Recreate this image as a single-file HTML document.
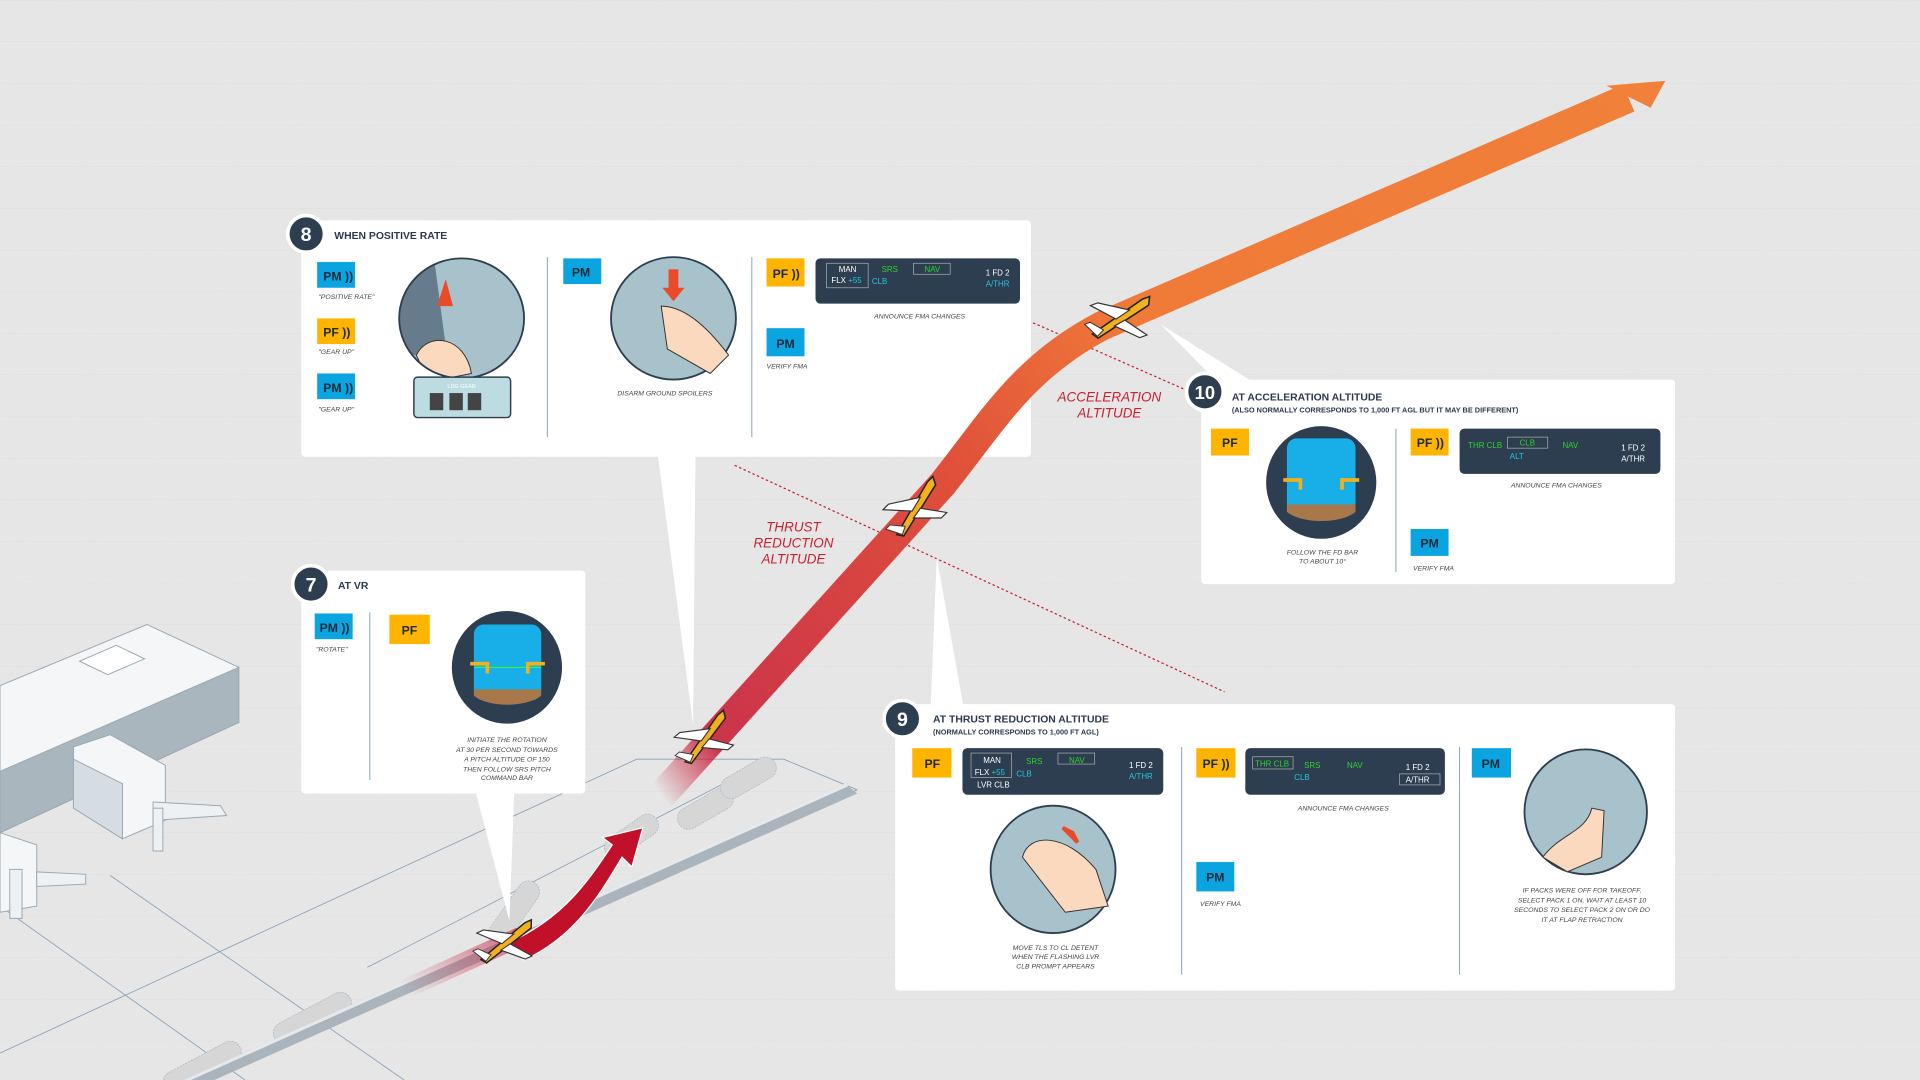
<!DOCTYPE html>
<html><head><meta charset="utf-8"><style>
html,body{margin:0;padding:0;background:#e6e6e6;overflow:hidden}
svg{display:block;font-family:"Liberation Sans",sans-serif}
.t{font-size:8.5px;font-weight:bold;fill:#2b3a4d}
.s{font-size:6px;font-weight:bold;fill:#2b3a4d}
.c{font-size:5.6px;font-style:italic;fill:#444}
.b{font-size:10px;font-weight:bold;fill:#1d2a3a}
.f{font-size:6.5px;fill:#fff}
.g{font-size:6.5px;fill:#2bd42b}
.cy{font-size:6.5px;fill:#23c6e0}
.r{font-size:11px;font-style:italic;fill:#c8202e}
</style></head><body>
<svg width="1920" height="1080" viewBox="0 0 1568 882" preserveAspectRatio="none">
<defs>
<linearGradient id="climb" x1="540" y1="650" x2="1350" y2="70" gradientUnits="userSpaceOnUse">
<stop offset="0" stop-color="#c8203a" stop-opacity="0"/><stop offset="0.06" stop-color="#c8203a" stop-opacity="0.9"/><stop offset="0.35" stop-color="#e0503a"/><stop offset="0.55" stop-color="#f07a38"/><stop offset="1" stop-color="#f0803a"/>
</linearGradient>
<linearGradient id="gr" x1="330" y1="810" x2="450" y2="740" gradientUnits="userSpaceOnUse"><stop offset="0" stop-color="#c8203a" stop-opacity="0"/><stop offset="1" stop-color="#c8203a" stop-opacity="0.8"/></linearGradient>
<pattern id="grid" width="60" height="34" patternUnits="userSpaceOnUse" patternTransform="skewX(-60)"><path d="M0 0H60M0 0V34" stroke="#dcdcdc" stroke-width="0.6" fill="none"/></pattern>
<clipPath id="c8"><ellipse cx="377" cy="260" rx="51" ry="49"/></clipPath>
<g id="plane"><path d="M-16 4 L14 -4 L18 -4 L16 0 L-14 7Z" fill="#f2b01e" stroke="#222" stroke-width="0.8"/><path d="M-2 1 L-12 -10 L-8 -10 L6 -1Z M2 3 L10 14 L6 14 L-4 4Z" fill="#fff" stroke="#333" stroke-width="0.6"/><path d="M-14 6 L-18 -2 L-15 -2 L-10 4Z" fill="#fff" stroke="#333" stroke-width="0.5"/></g>
</defs>
<rect width="1568" height="882" fill="#e6e6e6"/>
<rect width="1568" height="882" fill="url(#grid)"/>

<g fill="none" stroke="#8aa0b8" stroke-width="0.7">
<path d="M0 860 L520 620 L640 620 L700 645"/>
<path d="M90 715 L330 882"/><path d="M0 740 L200 882"/>
<path d="M300 790 L620 625"/><path d="M150 882 L700 645"/>
</g>
<g fill="#d6d6d6" stroke="#a8b8c8" stroke-width="0.6" stroke-dasharray="1.5 1">
<rect x="0" y="0" width="70" height="18" rx="9" transform="translate(220 840) rotate(-28)"/>
<rect x="0" y="0" width="60" height="18" rx="9" transform="translate(395 765) rotate(-55)"/>
<rect x="0" y="0" width="50" height="18" rx="9" transform="translate(490 690) rotate(-35)"/>
<rect x="0" y="0" width="50" height="18" rx="9" transform="translate(550 665) rotate(-30)"/>
<rect x="0" y="0" width="50" height="18" rx="9" transform="translate(585 640) rotate(-30)"/>
<rect x="0" y="0" width="70" height="18" rx="9" transform="translate(130 880) rotate(-28)"/>
</g>
<path d="M150 882 L690 640 L700 648 L175 882Z" fill="#a9b4bc"/>
<path d="M150 882 L690 640 L693 642 L156 882Z" fill="#ffffff" opacity=".7"/>
<g stroke="#9aa8b4" stroke-width="0.8">
<path d="M0 560 L120 510 L195 545 L195 590 L0 680Z" fill="#f4f6f7"/>
<path d="M0 630 L195 545 L195 590 L0 680Z" fill="#a9b6be"/>
<path d="M65 540 L95 527 L118 538 L88 551Z" fill="#fff"/>
<path d="M60 610 L90 600 L135 625 L135 670 L100 685 L60 660Z" fill="#f4f6f7"/>
<path d="M60 620 L100 640 L100 685 L60 660Z" fill="#d6dde2"/>
<path d="M125 655 L180 658 L185 666 L125 670Z" fill="#eef1f3"/>
<path d="M0 680 L30 690 L30 740 L0 745Z" fill="#f4f6f7"/>
<path d="M30 712 L70 714 L70 722 L30 724Z" fill="#eef1f3"/>
<rect x="8" y="710" width="10" height="40" fill="#eef1f3"/>
<rect x="125" y="660" width="8" height="35" fill="#eef1f3"/>
</g>

<path d="M840 262 L972 320" stroke="#c8202e" stroke-width="1" stroke-dasharray="2 2" fill="none"/>
<path d="M600 380 L1000 565" stroke="#c8202e" stroke-width="1" stroke-dasharray="2 2" fill="none"/>

<path d="M330 808 L425 765" stroke="url(#gr)" stroke-width="16" fill="none"/>
<path d="M415 770 C460 750 480 720 500 690 L492 684 L525 676 L516 708 L508 700 C490 730 470 765 428 784Z" fill="#c0102a" stroke="#fff" stroke-width="1"/>

<text class="r" x="906" y="328" text-anchor="middle">ACCELERATION</text>
<text class="r" x="906" y="341" text-anchor="middle">ALTITUDE</text>
<text class="r" x="648" y="434" text-anchor="middle">THRUST</text>
<text class="r" x="648" y="447" text-anchor="middle">REDUCTION</text>
<text class="r" x="648" y="460" text-anchor="middle">ALTITUDE</text>

<g fill="#fff">
<path d="M537 370 L568 370 L566 592Z"/>
<path d="M388 645 L420 645 L416 752Z"/>
<path d="M760 578 L787 578 L765 455Z"/>
<path d="M995 313 L1025 313 L948 265Z"/>
</g>

<!-- BOX 8 -->
<rect x="246" y="180" width="596" height="193" rx="3" fill="#fff"/>
<circle cx="250" cy="191" r="15" fill="#2d3e50" stroke="#fff" stroke-width="3"/>
<text x="250" y="197" fill="#fff" font-size="16" font-weight="bold" text-anchor="middle">8</text>
<text class="t" x="273" y="195">WHEN POSITIVE RATE</text>
<rect x="259" y="214" width="31" height="21" fill="#0aa5e0"/><text class="b" x="264" y="229">PM ))</text><text class="c" x="260" y="244">"POSITIVE RATE"</text>
<rect x="259" y="260" width="31" height="21" fill="#ffb400"/><text class="b" x="264" y="275">PF ))</text><text class="c" x="260" y="289">"GEAR UP"</text>
<rect x="259" y="305" width="31" height="21" fill="#0aa5e0"/><text class="b" x="264" y="320">PM ))</text><text class="c" x="260" y="336">"GEAR UP"</text>
<ellipse cx="377" cy="260" rx="51" ry="49" fill="#a8c2cc"/>
<g clip-path="url(#c8)">
<path d="M320 215 L355 215 L365 290 L320 290Z" fill="#3a4d62" opacity=".6"/>
<path d="M340 290 C350 270 380 275 385 305 L350 312Z" fill="#fbd9bf" stroke="#333" stroke-width="0.8"/>
</g>
<ellipse cx="377" cy="260" rx="51" ry="49" fill="none" stroke="#2d3e50" stroke-width="1.5"/>
<path d="M357 250 L364 228 L370 250Z" fill="#e84a2a"/>
<rect x="338" y="308" width="79" height="33" rx="3" fill="#bcdce2" stroke="#2d3e50" stroke-width="1.2"/>
<text x="377" y="317" font-size="4.5" fill="#fff" text-anchor="middle">LDG GEAR</text>
<rect x="351" y="321" width="11" height="14" fill="#444"/><rect x="367" y="321" width="11" height="14" fill="#444"/><rect x="382" y="321" width="11" height="14" fill="#444"/>
<line x1="447" y1="210" x2="447" y2="357" stroke="#8aa0c0" stroke-width="0.8"/>
<rect x="460" y="211" width="31" height="21" fill="#0aa5e0"/><text class="b" x="467" y="226">PM</text>
<ellipse cx="550" cy="260" rx="51" ry="50" fill="#a8c2cc" stroke="#2d3e50" stroke-width="1.5"/>
<path d="M540 250 C560 250 580 270 595 290 L580 305 L545 285Z" fill="#fbd9bf" stroke="#333" stroke-width="0.8"/>
<path d="M546 220 L554 220 L554 235 L559 235 L550 246 L541 235 L546 235Z" fill="#e84a2a"/>
<text class="c" x="543" y="323" text-anchor="middle">DISARM GROUND SPOILERS</text>
<line x1="614" y1="210" x2="614" y2="357" stroke="#8aa0c0" stroke-width="0.8"/>
<rect x="626" y="211" width="31" height="23" fill="#ffb400"/><text class="b" x="631" y="227">PF ))</text>
<rect x="666" y="211" width="167" height="37" rx="4" fill="#2d3e50"/>
<rect x="675" y="215" width="34" height="20" fill="none" stroke="#aaa" stroke-width="0.6"/>
<text class="f" x="685" y="222">MAN</text><text class="f" x="679" y="231">FLX <tspan fill="#23c6e0">+55</tspan></text>
<text class="g" x="720" y="222">SRS</text><text class="cy" x="712" y="232">CLB</text>
<rect x="746" y="215" width="30" height="9" fill="none" stroke="#aaa" stroke-width="0.6"/><text class="g" x="755" y="222">NAV</text>
<text class="f" x="805" y="225">1 FD 2</text><text class="cy" x="805" y="234">A/THR</text>
<text class="c" x="751" y="260" text-anchor="middle">ANNOUNCE FMA CHANGES</text>
<rect x="626" y="268" width="31" height="23" fill="#0aa5e0"/><text class="b" x="634" y="284">PM</text>
<text class="c" x="626" y="301">VERIFY FMA</text>

<path d="M540 650 L770 395 C810 345 835 300 900 266 L1330 80" stroke="url(#climb)" stroke-width="24" fill="none"/>
<path d="M1312 70 L1360 66 L1348 88Z" fill="#f0803a"/>

<use href="#plane" transform="translate(412 768) rotate(-25) scale(1.5)"/>
<use href="#plane" transform="translate(574 602) rotate(-40) scale(1.5)"/>
<use href="#plane" transform="translate(746 414) rotate(-45) scale(1.6)"/>
<use href="#plane" transform="translate(914 258) rotate(-20) scale(1.6)"/>

<!-- BOX 7 -->
<rect x="246" y="466" width="232" height="182" rx="3" fill="#fff"/>
<circle cx="254" cy="477" r="15" fill="#2d3e50" stroke="#fff" stroke-width="3"/>
<text x="254" y="483" fill="#fff" font-size="16" font-weight="bold" text-anchor="middle">7</text>
<text class="t" x="276" y="481">AT VR</text>
<rect x="257" y="501" width="31" height="21" fill="#0aa5e0"/><text class="b" x="261" y="516">PM ))</text><text class="c" x="258" y="532">"ROTATE"</text>
<line x1="302" y1="500" x2="302" y2="637" stroke="#8aa0c0" stroke-width="0.8"/>
<rect x="318" y="502" width="33" height="24" fill="#ffb400"/><text class="b" x="328" y="518">PF</text>
<ellipse cx="414" cy="545" rx="45" ry="46" fill="#2d3e50"/>
<rect x="387" y="510" width="55" height="62" rx="8" fill="#18aee8"/>
<path d="M387 563 H442 V568 C430 578 398 578 387 568Z" fill="#a8784a"/>
<line x1="387" y1="545" x2="442" y2="545" stroke="#3f3" stroke-width="0.8"/>
<path d="M384 542 H398 V550 M431 550 V542 H445" stroke="#f2b01e" stroke-width="3" fill="none"/>
<text class="c" x="414" y="606" text-anchor="middle">INITIATE THE ROTATION</text>
<text class="c" x="414" y="614" text-anchor="middle">AT 30 PER SECOND TOWARDS</text>
<text class="c" x="414" y="622" text-anchor="middle">A PITCH ALTITUDE OF 150</text>
<text class="c" x="414" y="630" text-anchor="middle">THEN FOLLOW SRS PITCH</text>
<text class="c" x="414" y="637" text-anchor="middle">COMMAND BAR</text>

<!-- BOX 10 -->
<rect x="981" y="310" width="387" height="167" rx="3" fill="#fff"/>
<circle cx="984" cy="320" r="15" fill="#2d3e50" stroke="#fff" stroke-width="3"/>
<text x="984" y="326" fill="#fff" font-size="15" font-weight="bold" text-anchor="middle">10</text>
<text class="t" x="1006" y="327">AT ACCELERATION ALTITUDE</text>
<text class="s" x="1006" y="337">(ALSO NORMALLY CORRESPONDS TO 1,000 FT AGL BUT IT MAY BE DIFFERENT)</text>
<rect x="989" y="350" width="31" height="22" fill="#ffb400"/><text class="b" x="998" y="365">PF</text>
<ellipse cx="1079" cy="394" rx="45" ry="46" fill="#2d3e50"/>
<rect x="1051" y="358" width="56" height="62" rx="8" fill="#18aee8"/>
<path d="M1051 412 H1107 V418 C1095 428 1063 428 1051 418Z" fill="#a8784a"/>
<path d="M1048 392 H1062 V400 M1096 400 V392 H1110" stroke="#f2b01e" stroke-width="3" fill="none"/>
<text class="c" x="1080" y="453" text-anchor="middle">FOLLOW THE FD BAR</text>
<text class="c" x="1080" y="460" text-anchor="middle">TO ABOUT 10°</text>
<line x1="1140" y1="350" x2="1140" y2="467" stroke="#8aa0c0" stroke-width="0.8"/>
<rect x="1152" y="350" width="31" height="22" fill="#ffb400"/><text class="b" x="1157" y="365">PF ))</text>
<rect x="1192" y="350" width="164" height="37" rx="4" fill="#2d3e50"/>
<text class="g" x="1199" y="366">THR CLB</text>
<rect x="1231" y="357" width="33" height="9" fill="none" stroke="#aaa" stroke-width="0.6"/><text class="g" x="1241" y="364">CLB</text><text class="cy" x="1233" y="375">ALT</text>
<text class="g" x="1276" y="366">NAV</text>
<text class="f" x="1324" y="368">1 FD 2</text><text class="f" x="1324" y="377">A/THR</text>
<text class="c" x="1271" y="398" text-anchor="middle">ANNOUNCE FMA CHANGES</text>
<rect x="1152" y="432" width="31" height="22" fill="#0aa5e0"/><text class="b" x="1160" y="447">PM</text>
<text class="c" x="1154" y="466">VERIFY FMA</text>

<!-- BOX 9 -->
<rect x="731" y="575" width="637" height="234" rx="3" fill="#fff"/>
<circle cx="737" cy="587" r="15" fill="#2d3e50" stroke="#fff" stroke-width="3"/>
<text x="737" y="593" fill="#fff" font-size="16" font-weight="bold" text-anchor="middle">9</text>
<text class="t" x="762" y="590">AT THRUST REDUCTION ALTITUDE</text>
<text class="s" x="762" y="600">(NORMALLY CORRESPONDS TO 1,000 FT AGL)</text>
<rect x="745" y="611" width="32" height="24" fill="#ffb400"/><text class="b" x="755" y="627">PF</text>
<rect x="786" y="611" width="164" height="38" rx="4" fill="#2d3e50"/>
<rect x="793" y="615" width="33" height="20" fill="none" stroke="#aaa" stroke-width="0.6"/>
<text class="f" x="803" y="623">MAN</text><text class="f" x="796" y="633">FLX <tspan fill="#23c6e0">+55</tspan></text><text class="f" x="798" y="643">LVR CLB</text>
<text class="g" x="838" y="624">SRS</text><text class="cy" x="830" y="634">CLB</text>
<rect x="864" y="615" width="30" height="9" fill="none" stroke="#aaa" stroke-width="0.6"/><text class="g" x="873" y="623">NAV</text>
<text class="f" x="922" y="627">1 FD 2</text><text class="cy" x="922" y="636">A/THR</text>
<ellipse cx="860" cy="710" rx="51" ry="52" fill="#a8c2cc" stroke="#2d3e50" stroke-width="1.5"/>
<path d="M835 700 C840 680 870 680 895 710 L905 740 L870 745Z" fill="#fbd9bf" stroke="#333" stroke-width="0.8"/>
<path d="M868 676 L880 688 L876 680Z" fill="#e84a2a" stroke="#e84a2a" stroke-width="3"/>
<text class="c" x="862" y="776" text-anchor="middle">MOVE TLS TO CL DETENT</text>
<text class="c" x="862" y="783" text-anchor="middle">WHEN THE FLASHING LVR</text>
<text class="c" x="862" y="791" text-anchor="middle">CLB PROMPT APPEARS</text>
<line x1="965" y1="610" x2="965" y2="796" stroke="#8aa0c0" stroke-width="0.8"/>
<rect x="977" y="611" width="32" height="24" fill="#ffb400"/><text class="b" x="982" y="627">PF ))</text>
<rect x="1017" y="611" width="163" height="38" rx="4" fill="#2d3e50"/>
<rect x="1023" y="618" width="33" height="10" fill="none" stroke="#aaa" stroke-width="0.6"/><text class="g" x="1025" y="626">THR CLB</text>
<text class="g" x="1065" y="627">SRS</text><text class="cy" x="1057" y="637">CLB</text>
<text class="g" x="1100" y="627">NAV</text>
<text class="f" x="1148" y="629">1 FD 2</text>
<rect x="1143" y="632" width="33" height="9" fill="none" stroke="#aaa" stroke-width="0.6"/><text class="f" x="1148" y="639">A/THR</text>
<text class="c" x="1097" y="662" text-anchor="middle">ANNOUNCE FMA CHANGES</text>
<rect x="977" y="704" width="31" height="24" fill="#0aa5e0"/><text class="b" x="985" y="720">PM</text>
<text class="c" x="980" y="740">VERIFY FMA</text>
<line x1="1192" y1="610" x2="1192" y2="796" stroke="#8aa0c0" stroke-width="0.8"/>
<rect x="1202" y="611" width="32" height="24" fill="#0aa5e0"/><text class="b" x="1210" y="627">PM</text>
<ellipse cx="1295" cy="663" rx="50" ry="51" fill="#a8c2cc" stroke="#2d3e50" stroke-width="1.5"/>
<path d="M1260 700 C1275 680 1295 680 1300 660 L1310 662 L1308 700 L1280 712Z" fill="#fbd9bf" stroke="#333" stroke-width="0.8"/>
<text class="c" x="1292" y="729" text-anchor="middle">IF PACKS WERE OFF FOR TAKEOFF,</text>
<text class="c" x="1292" y="737" text-anchor="middle">SELECT PACK 1 ON, WAIT AT LEAST 10</text>
<text class="c" x="1292" y="745" text-anchor="middle">SECONDS TO SELECT PACK 2 ON OR DO</text>
<text class="c" x="1292" y="753" text-anchor="middle">IT AT FLAP RETRACTION</text>
</svg>
</body></html>
